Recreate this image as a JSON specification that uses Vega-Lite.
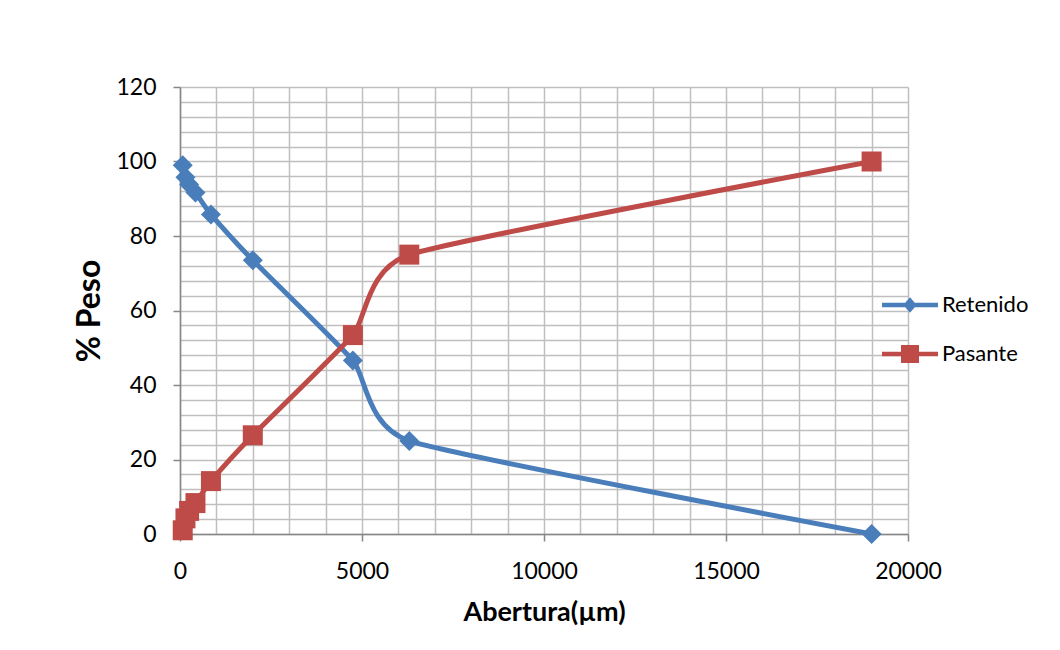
{
  "$schema": "https://vega.github.io/schema/vega-lite/v6.json",
  "width": 728,
  "height": 447,
  "autosize": {"type": "none"},
  "padding": {"left": 180, "top": 87, "right": 152, "bottom": 116},
  "background": "white",
  "config": {
    "view": {"stroke": null},
    "font": "Lato"
  },
  "data": {
    "values": [
      {"abertura": 75, "serie": "Retenido", "peso": 99.0},
      {"abertura": 150, "serie": "Retenido", "peso": 95.8},
      {"abertura": 250, "serie": "Retenido", "peso": 93.8},
      {"abertura": 425, "serie": "Retenido", "peso": 91.7},
      {"abertura": 850, "serie": "Retenido", "peso": 85.8},
      {"abertura": 2000, "serie": "Retenido", "peso": 73.5},
      {"abertura": 4750, "serie": "Retenido", "peso": 46.6},
      {"abertura": 6300, "serie": "Retenido", "peso": 25.0},
      {"abertura": 19000, "serie": "Retenido", "peso": 0},
      {"abertura": 75, "serie": "Pasante", "peso": 1.0},
      {"abertura": 150, "serie": "Pasante", "peso": 4.2},
      {"abertura": 250, "serie": "Pasante", "peso": 6.2},
      {"abertura": 425, "serie": "Pasante", "peso": 8.3},
      {"abertura": 850, "serie": "Pasante", "peso": 14.2},
      {"abertura": 2000, "serie": "Pasante", "peso": 26.5},
      {"abertura": 4750, "serie": "Pasante", "peso": 53.4},
      {"abertura": 6300, "serie": "Pasante", "peso": 75.0},
      {"abertura": 19000, "serie": "Pasante", "peso": 100}
    ]
  },
  "encoding": {
    "x": {
      "field": "abertura",
      "type": "quantitative",
      "scale": {"domain": [0, 20000], "nice": false, "zero": true},
      "axis": {
        "title": "Abertura(µm)",
        "values": [0, 1000, 2000, 3000, 4000, 5000, 6000, 7000, 8000, 9000, 10000, 11000, 12000, 13000, 14000, 15000, 16000, 17000, 18000, 19000, 20000],
        "labelExpr": "datum.value % 5000 === 0 ? format(datum.value, 'd') : ''",
        "labelOverlap": false,
        "labelFlush": false,
        "labelFont": "Lato",
        "labelFontSize": 23,
        "labelColor": "#000000",
        "labelPadding": 19,
        "tickSize": 7,
        "tickWidth": 1.5,
        "tickColor": "#868686",
        "tickOpacity": {"condition": {"test": "datum.value % 5000 === 0", "value": 1}, "value": 0},
        "domainColor": "#868686",
        "domainWidth": 1.5,
        "grid": true,
        "gridColor": "#bfbfbf",
        "gridWidth": 1.5,
        "titleFont": "Lato",
        "titleFontWeight": "bold",
        "titleFontSize": 27,
        "titleColor": "#000000",
        "titlePadding": 16
      }
    },
    "y": {
      "field": "peso",
      "type": "quantitative",
      "scale": {"domain": [0, 120], "nice": false},
      "axis": {
        "title": "% Peso",
        "values": [0, 4, 8, 12, 16, 20, 24, 28, 32, 36, 40, 44, 48, 52, 56, 60, 64, 68, 72, 76, 80, 84, 88, 92, 96, 100, 104, 108, 112, 116, 120],
        "labelExpr": "datum.value % 20 === 0 ? format(datum.value, 'd') : ''",
        "labelOverlap": false,
        "labelFlush": false,
        "labelFont": "Lato",
        "labelFontSize": 23,
        "labelColor": "#000000",
        "labelPadding": 17,
        "tickSize": 7,
        "tickWidth": 1.5,
        "tickColor": "#868686",
        "tickOpacity": {"condition": {"test": "datum.value % 20 === 0", "value": 1}, "value": 0},
        "domainColor": "#868686",
        "domainWidth": 1.5,
        "grid": true,
        "gridColor": "#bfbfbf",
        "gridWidth": 1.5,
        "titleFont": "Lato",
        "titleFontWeight": "bold",
        "titleFontSize": 32,
        "titleColor": "#000000",
        "titlePadding": 9
      }
    }
  },
  "layer": [
    {
      "mark": {"type": "line", "interpolate": "cardinal", "tension": 0.5, "strokeWidth": 5},
      "encoding": {
        "color": {
          "field": "serie",
          "type": "nominal",
          "scale": {"domain": ["Retenido", "Pasante"], "range": ["#4A7EBB", "#BE4B48"]},
          "legend": null
        }
      }
    },
    {
      "mark": {"type": "point", "filled": true, "opacity": 1, "strokeWidth": 0},
      "encoding": {
        "color": {
          "field": "serie",
          "type": "nominal",
          "scale": {"domain": ["Retenido", "Pasante"], "range": ["#4A7EBB", "#BE4B48"]},
          "legend": null
        },
        "shape": {
          "field": "serie",
          "type": "nominal",
          "scale": {"domain": ["Retenido", "Pasante"], "range": ["diamond", "square"]},
          "legend": null
        },
        "size": {
          "field": "serie",
          "type": "nominal",
          "scale": {"domain": ["Retenido", "Pasante"], "range": [400, 400]},
          "legend": null
        }
      }
    },
    {
      "mark": {"type": "point", "filled": true, "size": 0, "strokeWidth": 0},
      "encoding": {
        "color": {
          "field": "serie",
          "type": "nominal",
          "scale": {"domain": ["Retenido", "Pasante"], "range": ["#4A7EBB", "#BE4B48"]},
          "legend": {
            "title": null,
            "orient": "none",
            "legendX": 716,
            "legendY": 204,
            "direction": "vertical",
            "padding": 0,
            "symbolSize": 784,
            "symbolStrokeWidth": 0,
            "symbolOpacity": 1,
            "labelOffset": 18,
            "rowPadding": 24,
            "labelFont": "Lato",
            "labelFontSize": 22,
            "labelColor": "#000000"
          }
        },
        "shape": {
          "field": "serie",
          "type": "nominal",
          "scale": {
            "domain": ["Retenido", "Pasante"],
            "range": [
              "M-2,-0.16L-0.34,-0.16L0,-0.56L0.34,-0.16L2,-0.16L2,0.16L0.34,0.16L0,0.56L-0.34,0.16L-2,0.16Z",
              "M-2,-0.16L-0.643,-0.16L-0.643,-0.643L0.643,-0.643L0.643,-0.16L2,-0.16L2,0.16L0.643,0.16L0.643,0.643L-0.643,0.643L-0.643,0.16L-2,0.16Z"
            ]
          },
          "legend": {
            "title": null,
            "orient": "none",
            "legendX": 716,
            "legendY": 204,
            "direction": "vertical",
            "padding": 0,
            "symbolSize": 784,
            "symbolStrokeWidth": 0,
            "symbolOpacity": 1,
            "labelOffset": 18,
            "rowPadding": 24,
            "labelFont": "Lato",
            "labelFontSize": 22,
            "labelColor": "#000000"
          }
        }
      }
    }
  ],
  "resolve": {"scale": {"color": "independent", "shape": "independent"}}
}
